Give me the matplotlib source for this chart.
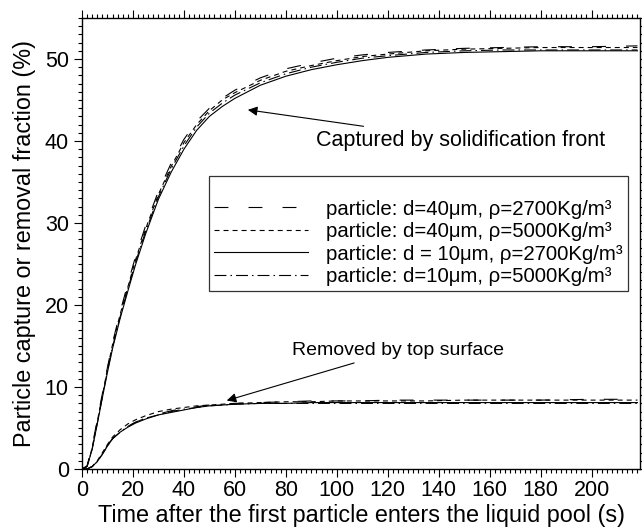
import matplotlib
matplotlib.use("Agg")
import matplotlib.pyplot as plt
from matplotlib.ticker import MultipleLocator

plt.rcParams['font.family'] = ['Liberation Sans', 'DejaVu Sans']
plt.rcParams['lines.scale_dashes'] = False

# ---------------- data ----------------
time = [0, 2, 4, 6, 8, 10, 12, 15, 18, 21, 25, 30, 35, 40, 45, 50, 55, 60,
        70, 80, 90, 100, 110, 120, 135, 150, 165, 180, 200, 218]

# captured by solidification front (%)
cap_d40_r2700 = [0, 0.4, 2.8, 6.0, 9.2, 12.4, 15.4, 19.2, 22.6, 25.9, 29.7, 33.9, 37.3, 40.2,
                 42.4, 44.0, 45.2, 46.2, 47.7, 48.8, 49.5, 50.1, 50.5, 50.8, 51.1, 51.3,
                 51.4, 51.5, 51.5, 51.6]
cap_d40_r5000 = [0, 0.3, 2.6, 5.8, 9.0, 12.2, 15.2, 18.9, 22.2, 25.5, 29.3, 33.5, 36.9, 39.8,
                 42.0, 43.7, 45.0, 45.9, 47.4, 48.5, 49.2, 49.8, 50.3, 50.6, 51.0, 51.2,
                 51.3, 51.4, 51.4, 51.4]
cap_d10_r2700 = [0, 0.3, 2.4, 5.5, 8.7, 11.8, 14.7, 18.4, 21.7, 24.9, 28.7, 32.9, 36.2, 39.0,
                 41.3, 43.0, 44.2, 45.2, 46.8, 47.9, 48.7, 49.3, 49.8, 50.2, 50.6, 50.8,
                 50.9, 51.0, 51.0, 51.0]
cap_d10_r5000 = [0, 0.3, 2.5, 5.6, 8.8, 12.0, 14.9, 18.6, 22.0, 25.2, 29.0, 33.2, 36.6, 39.4,
                 41.7, 43.4, 44.6, 45.6, 47.1, 48.2, 49.0, 49.6, 50.1, 50.4, 50.8, 51.0,
                 51.1, 51.1, 51.1, 51.1]

# removed by top surface (%)
rem_d40_r2700 = [0, 0.0, 0.3, 1.0, 1.9, 2.9, 3.7, 4.6, 5.2, 5.7, 6.2, 6.7, 7.1, 7.4,
                 7.6, 7.8, 7.9, 8.0, 8.1, 8.2, 8.3, 8.3, 8.3, 8.4, 8.4, 8.4,
                 8.4, 8.4, 8.5, 8.5]
rem_d40_r5000 = [0, 0.0, 0.3, 1.0, 2.0, 3.0, 3.9, 4.8, 5.5, 6.0, 6.5, 7.0, 7.3, 7.5,
                 7.7, 7.8, 7.9, 8.0, 8.1, 8.2, 8.2, 8.3, 8.3, 8.3, 8.3, 8.4,
                 8.4, 8.4, 8.4, 8.4]
rem_d10_r2700 = [0, 0.0, 0.3, 0.9, 1.8, 2.8, 3.7, 4.5, 5.1, 5.6, 6.1, 6.6, 6.9, 7.2,
                 7.5, 7.7, 7.8, 7.9, 8.0, 8.0, 8.1, 8.1, 8.1, 8.1, 8.1, 8.1,
                 8.1, 8.1, 8.1, 8.1]
rem_d10_r5000 = [0, 0.0, 0.3, 0.9, 1.8, 2.8, 3.7, 4.5, 5.2, 5.7, 6.2, 6.6, 7.0, 7.3,
                 7.5, 7.7, 7.8, 7.9, 8.0, 8.0, 8.0, 8.0, 8.0, 8.0, 8.0, 8.0,
                 8.0, 8.0, 8.0, 8.0]

labels = ["particle: d=40\u03bcm, \u03c1=2700Kg/m\u00b3",
          "particle: d=40\u03bcm, \u03c1=5000Kg/m\u00b3",
          "particle: d = 10\u03bcm, \u03c1=2700Kg/m\u00b3",
          "particle: d=10\u03bcm, \u03c1=5000Kg/m\u00b3"]

# ---------------- plot ----------------
fig = plt.figure(figsize=(6.42, 5.29), dpi=100)
ax = fig.add_axes([82/642, 1 - 469/529, (640 - 82)/642, (469 - 18)/529])

styles = [dict(linestyle=(0, (10, 14.5))),
          dict(linestyle=(0, (3.6, 2.9))),
          dict(linestyle='-'),
          dict(linestyle=(0, (8.6, 2.9, 1.1, 2.9)))]
caps = [cap_d40_r2700, cap_d40_r5000, cap_d10_r2700, cap_d10_r5000]
rems = [rem_d40_r2700, rem_d40_r5000, rem_d10_r2700, rem_d10_r5000]

handles = []
for st, c, r, lab in zip(styles, caps, rems, labels):
    h, = ax.plot(time, c, color='black', lw=0.8, label=lab, **st)
    ax.plot(time, r, color='black', lw=0.8, **st)
    handles.append(h)

ax.set_xlim(0, 219)
ax.set_ylim(0, 55)
ax.xaxis.set_major_locator(MultipleLocator(20))
ax.xaxis.set_minor_locator(MultipleLocator(2))
ax.yaxis.set_major_locator(MultipleLocator(10))
ax.yaxis.set_minor_locator(MultipleLocator(1))
ax.tick_params(which='both', direction='out', top=True, right=True,
               labeltop=False, labelright=False, width=0.8, colors='black')
ax.tick_params(which='major', length=6, labelsize=15.5)
ax.tick_params(which='minor', length=3)
ax.tick_params(axis='x', which='major', pad=2)
ax.tick_params(axis='y', which='major', pad=3.5)
for s in ax.spines.values():
    s.set_linewidth(1.0)

ax.set_xlabel("Time after the first particle enters the liquid pool (s)", fontsize=16.8, labelpad=2)
ax.set_ylabel("Particle capture or removal fraction (%)", fontsize=16.8, labelpad=6)

ax.annotate("Captured by solidification front", xy=(65.1, 43.8), xytext=(92.0, 40.1),
            fontsize=15.5, va='center', ha='left',
            arrowprops=dict(arrowstyle='-|>', color='black', lw=0.8,
                            mutation_scale=14, shrinkA=3, shrinkB=0))
ax.annotate("Removed by top surface", xy=(56.8, 8.35), xytext=(82.3, 14.5),
            fontsize=14, va='center', ha='left',
            arrowprops=dict(arrowstyle='-|>', color='black', lw=0.8,
                            mutation_scale=14, shrinkA=4, shrinkB=0))

leg = ax.legend(handles=handles, loc='upper right',
                bbox_to_anchor=((628 - 82)/558, (469 - 176)/451),
                borderaxespad=0, fontsize=14.7, frameon=True, fancybox=False,
                edgecolor='black', handlelength=4.6, handletextpad=0.9,
                labelspacing=0.17, borderpad=0.25, title=" ", title_fontsize=12)
leg.get_frame().set_linewidth(0.9)

fig.savefig("out.png", dpi=100)
